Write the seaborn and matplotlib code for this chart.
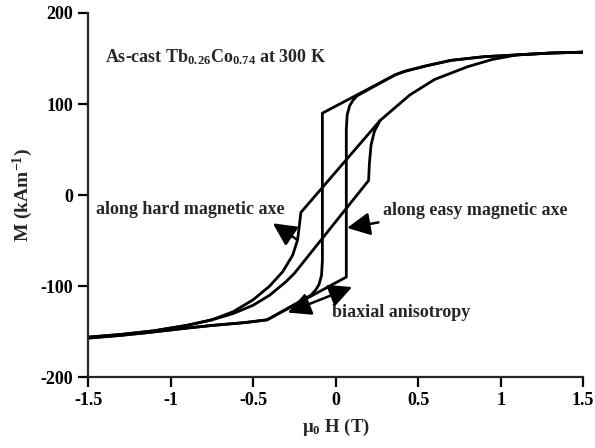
import matplotlib
matplotlib.use("Agg")
import numpy as np
import pandas as pd
import seaborn as sns
import matplotlib.pyplot as plt

# ---------------- data ----------------
easy_down_H = [1.5, 1.3, 1.1, 0.9, 0.7, 0.55, 0.42, 0.36, -0.08, -0.08, -0.085, -0.10, -0.12, -0.15,
               -0.415, -0.55, -0.74, -0.9, -1.14, -1.3, -1.5]
easy_down_M = [157, 156, 154, 152, 148, 142, 136, 132, 90, -72, -88, -98, -104, -110,
               -137, -140, -143, -146, -151, -154, -157]

easy_up_H = [-1.5, -1.3, -1.14, -0.9, -0.74, -0.55, -0.415, 0.065, 0.065, 0.07, 0.085, 0.105, 0.13,
             0.36, 0.42, 0.55, 0.7, 0.9, 1.1, 1.3, 1.5]
easy_up_M = [-157, -154, -151, -146, -143, -140, -137, -90, 72, 88, 98, 104, 109,
             132, 136, 142, 148, 152, 154, 156, 157]

hard_down_H = [1.5, 1.3, 1.1, 0.95, 0.8, 0.6, 0.45, 0.36, 0.27, -0.21, -0.23, -0.26, -0.32, -0.40,
               -0.50, -0.62, -0.75, -0.9, -1.1, -1.3, -1.5]
hard_down_M = [157, 156, 154, 149, 141, 127, 110, 96, 82, -19, -49, -66, -84, -100,
               -115, -128, -137, -143, -149, -153, -156]

hard_up_H = [-1.5, -1.3, -1.1, -0.9, -0.75, -0.62, -0.50, -0.40, -0.30, -0.25, 0.20, 0.205, 0.215,
             0.235, 0.27]
hard_up_M = [-156, -153, -149, -143, -137, -130, -121, -110, -95, -86, 16, 35, 55,
             70, 82]

x_ticks = [-1.5, -1, -0.5, 0, 0.5, 1, 1.5]
x_tick_labels = ["-1.5", "-1", "-0.5", "0", "0.5", "1", "1.5"]
y_ticks = [-200, -100, 0, 100, 200]
y_tick_labels = ["-200", "-100", "0", "100", "200"]

title_text = r"As-cast Tb$_{0.26}$Co$_{0.74}$ at 300 K"
label_hard = "along hard magnetic axe"
label_easy = "along easy magnetic axe"
label_biax = "biaxial anisotropy"

# ---------------- build table ----------------
frames = []
for name, H, M in [("easy_down", easy_down_H, easy_down_M),
                   ("easy_up", easy_up_H, easy_up_M),
                   ("hard_down", hard_down_H, hard_down_M),
                   ("hard_up", hard_up_H, hard_up_M)]:
    frames.append(pd.DataFrame({"H": H, "M": M, "branch": name}))
df = pd.concat(frames, ignore_index=True)

# ---------------- style ----------------
sns.set_style("ticks")
plt.rcParams["font.family"] = ["Liberation Serif", "DejaVu Serif"]
plt.rcParams["mathtext.fontset"] = "custom"
plt.rcParams["mathtext.rm"] = "Liberation Serif:bold"
plt.rcParams["mathtext.it"] = "Liberation Serif:italic:bold"
plt.rcParams["mathtext.bf"] = "Liberation Serif:bold"

fig = plt.figure(figsize=(5.95, 4.48), dpi=100)
ax = fig.add_axes([0.148, 0.158, 0.832, 0.813])

sns.lineplot(data=df, x="H", y="M", units="branch", estimator=None, sort=False,
             color="black", lw=2.0, ax=ax)

ax.set_xlim(-1.5, 1.5)
ax.set_ylim(-200, 200)
ax.set_xticks(x_ticks)
ax.set_xticklabels(x_tick_labels)
ax.set_yticks(y_ticks)
ax.set_yticklabels(y_tick_labels)
for s in ["top", "right"]:
    ax.spines[s].set_visible(False)
for s in ["left", "bottom"]:
    ax.spines[s].set_linewidth(1.6)
ax.tick_params(axis="both", direction="out", length=7, width=1.6, labelsize=13, pad=4,
               colors="black")
for t in ax.get_xticklabels() + ax.get_yticklabels():
    t.set_fontweight("bold")

ax.set_xlabel(r"$\mathbf{\mu_{0}}$ H (T)", fontsize=13.5, fontweight="bold", labelpad=5)
ax.set_ylabel(r"M (kAm$^{-1}$)", fontsize=14, fontweight="bold", labelpad=4)

txt_kw = dict(fontsize=13, fontweight="bold", va="center", ha="left")
ax.text(-1.40, 151, title_text, **txt_kw)
ax.text(-1.45, -16, label_hard, **txt_kw)
ax.text(0.29, -17, label_easy, **txt_kw)
ax.text(-0.02, -129, label_biax, **txt_kw)

arrow_kw = dict(arrowstyle="-|>,head_length=1.0,head_width=0.5", color="black", lw=1.8,
                shrinkA=0, shrinkB=0, mutation_scale=14)
ax.annotate("", xy=(-0.38, -31), xytext=(-0.233, -49), arrowprops=arrow_kw)
ax.annotate("", xy=(0.07, -36), xytext=(0.26, -30), arrowprops=arrow_kw)
dbl_kw = dict(arrow_kw)
dbl_kw["arrowstyle"] = "<|-|>,head_length=1.0,head_width=0.5"
ax.annotate("", xy=(0.10, -101), xytext=(-0.29, -129), arrowprops=dbl_kw)

fig.savefig("out.png", dpi=100)
